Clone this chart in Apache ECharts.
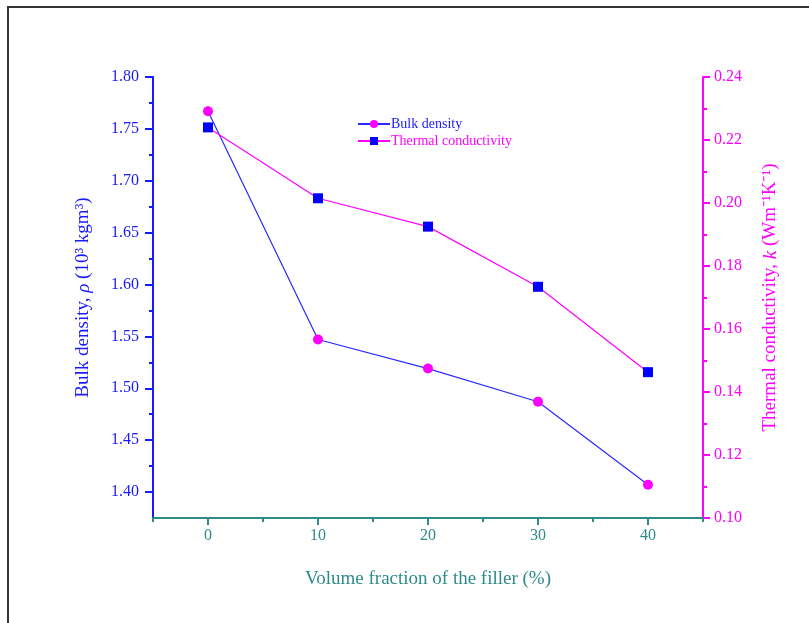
<!DOCTYPE html>
<html>
<head>
<meta charset="utf-8">
<script src="https://cdn.jsdelivr.net/npm/echarts@6/dist/echarts.min.js"></script>
<style>
  html, body { margin: 0; padding: 0; background: #fff; }
  #chart { width: 809px; height: 623px; }
</style>
</head>
<body>
<div id="chart"></div>
<script>
// volume fraction of filler (%)
const fractions = [0, 10, 20, 30, 40];
// bulk density (10^3 kg m^-3), left axis
const bulkDensity = [1.767, 1.547, 1.519, 1.487, 1.407];
// thermal conductivity (W m^-1 K^-1), right axis
const thermalCond = [0.224, 0.2015, 0.1925, 0.1734, 0.1463];

const xMajor = [0, 10, 20, 30, 40];
const xMinor = [-5, 5, 15, 25, 35, 45];
const leftMajor = [1.40, 1.45, 1.50, 1.55, 1.60, 1.65, 1.70, 1.75, 1.80];
const leftMinor = [1.425, 1.475, 1.525, 1.575, 1.625, 1.675, 1.725, 1.775];
const rightMajor = [0.10, 0.12, 0.14, 0.16, 0.18, 0.20, 0.22, 0.24];
const rightMinor = [0.11, 0.13, 0.15, 0.17, 0.19, 0.21, 0.23];

const blue = '#1a1aff';
const magenta = '#ff00ff';
const teal = '#2e8b8b';
const serif = 'Liberation Serif';

let myChart = echarts.init(document.getElementById('chart'));

let option = {
    backgroundColor: '#fff',
    animation: false,
    textStyle: { fontFamily: serif },
    graphic: [
        {
            // outer frame
            type: 'rect',
            shape: { x: 8, y: 7, width: 900, height: 700 },
            style: { fill: 'none', stroke: '#333', lineWidth: 2 },
            silent: true
        }
    ],
    grid: {
        left: 153,
        right: 106,
        top: 77,
        bottom: 105
    },
    legend: {
        left: 352,
        top: 112,
        orient: 'vertical',
        itemWidth: 32,
        itemHeight: 10,
        itemGap: 3,
        textStyle: { fontFamily: serif, fontSize: 14, padding: [0, 0, 0, -4] },
        data: [
            { name: 'Bulk density', textStyle: { color: blue } },
            { name: 'Thermal conductivity', textStyle: { color: magenta } }
        ]
    },
    xAxis: [
        {
            type: 'value',
            min: -5,
            max: 45,
            name: 'Volume fraction of the filler (%)',
            nameLocation: 'middle',
            nameGap: 52,
            nameTextStyle: { color: teal, fontSize: 19, fontFamily: serif },
            axisLine: { show: true, onZero: false, lineStyle: { color: teal, width: 2 } },
            axisTick: { show: true, customValues: xMajor, length: 7, lineStyle: { color: teal, width: 2 } },
            axisLabel: { customValues: xMajor, color: teal, fontSize: 16, margin: 10 },
            splitLine: { show: false }
        },
        {
            // minor ticks
            type: 'value',
            min: -5,
            max: 45,
            position: 'bottom',
            axisLine: { show: false, onZero: false },
            axisTick: { show: true, customValues: xMinor, length: 4, lineStyle: { color: teal, width: 2 } },
            axisLabel: { show: false },
            splitLine: { show: false }
        }
    ],
    yAxis: [
        {
            type: 'value',
            position: 'left',
            min: 1.375,
            max: 1.80,
            name: '{n|Bulk density, }{i|ρ}{n| (10³ kgm³)}',
            nameLocation: 'middle',
            nameGap: 60,
            nameRotate: 90,
            nameTextStyle: {
                rich: {
                    n: { color: blue, fontSize: 19, fontFamily: serif },
                    i: { color: blue, fontSize: 19, fontFamily: serif, fontStyle: 'italic' }
                }
            },
            axisLine: { show: true, onZero: false, lineStyle: { color: blue, width: 2 } },
            axisTick: { show: true, customValues: leftMajor, length: 8, lineStyle: { color: blue, width: 2 } },
            axisLabel: {
                customValues: leftMajor,
                color: blue,
                fontSize: 16,
                margin: 14,
                formatter: v => v.toFixed(2)
            },
            splitLine: { show: false }
        },
        {
            type: 'value',
            position: 'right',
            min: 0.10,
            max: 0.24,
            name: '{n|Thermal conductivity, }{i|k}{n| (Wm⁻¹K⁻¹)}',
            nameLocation: 'middle',
            nameGap: 58,
            nameRotate: 90,
            nameTextStyle: {
                rich: {
                    n: { color: magenta, fontSize: 19, fontFamily: serif },
                    i: { color: magenta, fontSize: 19, fontFamily: serif, fontStyle: 'italic' }
                }
            },
            axisLine: { show: true, onZero: false, lineStyle: { color: magenta, width: 2 } },
            axisTick: { show: true, customValues: rightMajor, length: 7, lineStyle: { color: magenta, width: 2 } },
            axisLabel: {
                customValues: rightMajor,
                color: magenta,
                fontSize: 16,
                margin: 11,
                formatter: v => v.toFixed(2)
            },
            splitLine: { show: false }
        },
        {
            // left minor ticks
            type: 'value',
            position: 'left',
            min: 1.375,
            max: 1.80,
            axisLine: { show: false, onZero: false },
            axisTick: { show: true, customValues: leftMinor, length: 4, lineStyle: { color: blue, width: 2 } },
            axisLabel: { show: false },
            splitLine: { show: false }
        },
        {
            // right minor ticks
            type: 'value',
            position: 'right',
            min: 0.10,
            max: 0.24,
            axisLine: { show: false, onZero: false },
            axisTick: { show: true, customValues: rightMinor, length: 4, lineStyle: { color: magenta, width: 2 } },
            axisLabel: { show: false },
            splitLine: { show: false }
        }
    ],
    series: [
        {
            name: 'Bulk density',
            type: 'line',
            xAxisIndex: 0,
            yAxisIndex: 0,
            symbol: 'circle',
            symbolSize: 10,
            lineStyle: { color: '#2a2aff', width: 1.2 },
            itemStyle: { color: magenta },
            data: fractions.map((f, i) => [f, bulkDensity[i]])
        },
        {
            name: 'Thermal conductivity',
            type: 'line',
            xAxisIndex: 0,
            yAxisIndex: 1,
            symbol: 'rect',
            symbolSize: 10,
            lineStyle: { color: magenta, width: 1.2 },
            itemStyle: { color: '#0000ff' },
            data: fractions.map((f, i) => [f, thermalCond[i]])
        }
    ]
};
option && myChart.setOption(option);
</script>
</body>
</html>
